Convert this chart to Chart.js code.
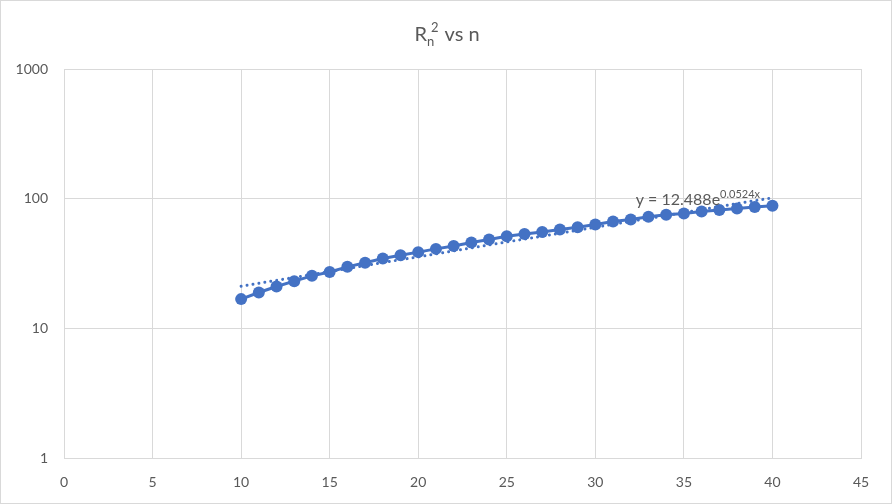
<!DOCTYPE html>
<html>
<head>
<meta charset="utf-8">
<script src="https://cdn.jsdelivr.net/npm/chart.js@4.4.1/dist/chart.umd.min.js"></script>
<style>
  html, body { margin: 0; padding: 0; background: #ffffff; }
  #wrap { position: relative; width: 890px; height: 502px; border: 1px solid #d9d9d9; background: #fff; }
</style>
</head>
<body>
<div id="wrap"><canvas id="c" width="890" height="502"></canvas></div>
<script>
// ---- data ----
const nValues = [10,11,12,13,14,15,16,17,18,19,20,21,22,23,24,25,26,27,28,29,30,31,32,33,34,35,36,37,38,39,40];
const r2Values = [16.8,18.9,21.0,23.1,25.4,27.2,29.8,32.0,34.6,36.6,38.7,41.0,43.2,45.9,48.5,51.3,53.5,55.4,57.9,60.3,63.2,66.7,69.2,72.4,75.0,76.9,79.6,81.9,84.0,86.4,88.0];
const trendX = [10, 40];
const trendY = [21.1, 101.6];
const xTicks = [0,5,10,15,20,25,30,35,40,45];
const yTicks = [1,10,100,1000];
const titleMain = "R", titleSub = "n", titleSup = "2", titleRest = " vs n";
const trendLabelMain = "y = 12.488e", trendLabelSup = "0.0524x";

const BLUE = '#4472C4';
const TEXT = '#595959';
const GRID = '#d9d9d9';
const FONT = 'Lato, "Open Sans", sans-serif';

const titlePlugin = {
  id: 'richText',
  afterDraw(chart) {
    const ctx = chart.ctx;
    ctx.save();
    ctx.fillStyle = TEXT;
    ctx.textBaseline = 'alphabetic';
    // title
    const big = '20px ' + FONT, small = '13px ' + FONT;
    ctx.font = big; const wR = ctx.measureText(titleMain).width;
    ctx.font = small; const wSub = ctx.measureText(titleSub).width; const wSup = ctx.measureText(titleSup).width;
    ctx.font = big; const wRest = ctx.measureText(titleRest).width;
    const total = wR + Math.max(wSub, wSup + 4) + 1 + wRest;
    let x = 446 - total / 2; const base = 40;
    ctx.font = big; ctx.fillText(titleMain, x, base); x += wR;
    ctx.font = small; ctx.fillText(titleSub, x, base + 5); ctx.fillText(titleSup, x + 4, base - 9);
    x += Math.max(wSub, wSup + 4) + 1;
    ctx.font = big; ctx.fillText(titleRest, x, base);
    // trendline label
    const xs = chart.scales.x, ys = chart.scales.y;
    let lx = xs.getPixelForValue(32) + 5;
    const ly = ys.getPixelForValue(100) + 6;
    ctx.font = '16px ' + FONT; ctx.fillText(trendLabelMain, lx, ly);
    lx += ctx.measureText(trendLabelMain).width;
    ctx.font = '11px ' + FONT; ctx.fillText(trendLabelSup, lx, ly - 7);
    ctx.restore();
  }
};

new Chart(document.getElementById('c'), {
  type: 'scatter',
  data: {
    datasets: [
      {
        label: 'R2',
        data: nValues.map((n, i) => ({ x: n, y: r2Values[i] })),
        showLine: true,
        borderColor: BLUE,
        backgroundColor: BLUE,
        borderWidth: 3,
        pointRadius: 6,
        pointHoverRadius: 6,
        pointBorderWidth: 0,
        order: 1
      },
      {
        label: 'trend',
        data: trendX.map((n, i) => ({ x: n, y: trendY[i] })),
        showLine: true,
        borderColor: BLUE,
        borderWidth: 3,
        borderDash: [0.01, 6],
        borderCapStyle: 'round',
        pointRadius: 0,
        order: 2
      }
    ]
  },
  options: {
    responsive: false,
    animation: false,
    devicePixelRatio: 1,
    layout: { padding: { top: 68, right: 30, left: 0, bottom: 0 } },
    plugins: { legend: { display: false }, tooltip: { enabled: false }, title: { display: false } },
    scales: {
      x: {
        type: 'linear', min: 0, max: 45,
        afterBuildTicks: s => { s.ticks = xTicks.map(v => ({ value: v })); },
        afterFit: s => { s.height = 45; },
        grid: { color: GRID, lineWidth: 1, drawTicks: false },
        border: { color: GRID },
        ticks: { color: TEXT, font: { family: FONT, size: 14 }, padding: 16, maxRotation: 0 }
      },
      y: {
        type: 'logarithmic', min: 1, max: 1000,
        afterBuildTicks: s => { s.ticks = yTicks.map(v => ({ value: v })); },
        afterFit: s => { s.width = 63; },
        grid: { color: GRID, lineWidth: 1, drawTicks: false },
        border: { color: GRID },
        ticks: { color: TEXT, font: { family: FONT, size: 14 }, padding: 16, callback: v => String(v) }
      }
    }
  },
  plugins: [titlePlugin]
});
</script>
</body>
</html>
